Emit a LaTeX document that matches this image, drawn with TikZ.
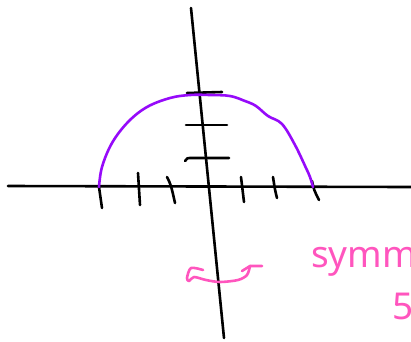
\documentclass[tikz,border=0pt]{standalone}
\usepackage{fontspec}
\setmainfont{Noto Sans}
\definecolor{inkviolet}{RGB}{150,10,250}
\definecolor{inkpink}{RGB}{255,85,190}
\begin{document}
\begin{tikzpicture}[x=1pt,y=-1pt,
  ink/.style={line width=2.6pt,line cap=round,line join=round,black},
  curvev/.style={line width=2.6pt,line cap=round,line join=round,inkviolet},
  pinkink/.style={line width=2.6pt,line cap=round,line join=round,inkpink},
  note/.style={text=inkpink,font=\fontsize{37}{37}\selectfont,inner sep=0pt,anchor=base west}]
\useasboundingbox (0,0) rectangle (411,341);
\clip (0,0) rectangle (411,341);
\fill[white] (0,0) rectangle (411,341);
% axes
\draw[ink] (8,186) -- (411,187);
\draw[ink] (191,8) -- (224,338);
% x ticks
\draw[ink] (99,187) -- (102,208);
\draw[ink] (138,173) -- (140,205);
\draw[ink] (167,177) .. controls (171,185) .. (175,203);
\draw[ink] (241,177) .. controls (243,190) .. (244,202);
\draw[ink] (273,177) .. controls (275,190) .. (277,198);
\draw[ink] (312,181) .. controls (314,190) .. (319,200);
% y ticks
\draw[ink] (187,93) -- (222,92);
\draw[ink] (186,125) -- (227,125);
\draw[ink] (185,161) .. controls (187,158) .. (192,158) -- (229,158);
% semicircle
\draw[curvev] plot[smooth,tension=0.6] coordinates {(99,187) (102,167) (112,143) (128,122) (147,107) (170,98) (190,95) (210,95) (230,96) (245,101) (256,106) (268,116) (282,124) (295,145) (306,168) (310,177) (313,187)};
% rotation arrow
\draw[pinkink] plot[smooth,tension=0.5] coordinates {(203,270) (191,268) (187,278) (189,281) (194,277) (206,280) (220,282) (238,280) (247,275) (250,266)};
\draw[pinkink] (242,271) -- (250,266) -- (262,266);
% notes
\node[note] (symm) at (311,267) {symm};
\node[note] (second) at (392,319) {5};
\end{tikzpicture}
\end{document}
